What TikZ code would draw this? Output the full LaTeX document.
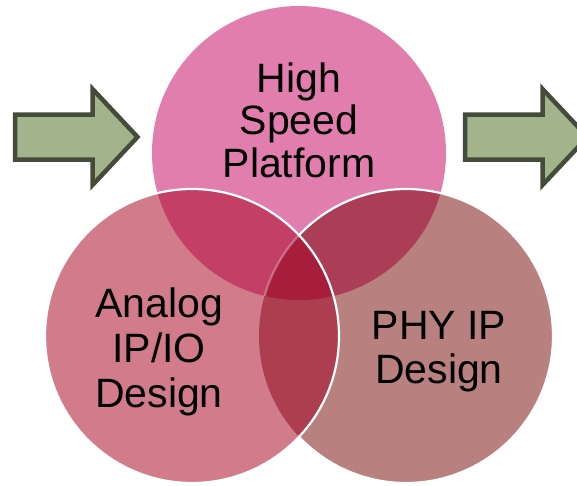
\documentclass[tikz,border=0pt]{standalone}
\usepackage{fontspec}
\setmainfont{Liberation Sans}
\definecolor{cT}{HTML}{E27EAE}
\definecolor{cL}{HTML}{D27C8B}
\definecolor{cR}{HTML}{B8807E}
\definecolor{cTL}{HTML}{C33F66}
\definecolor{cTR}{HTML}{AB3D56}
\definecolor{cLR}{HTML}{AD3E4F}
\definecolor{cTLR}{HTML}{A61E3C}
\definecolor{arrfill}{HTML}{A3B48D}
\definecolor{arrline}{HTML}{454B3A}
\tikzset{
  bigarrow/.style={fill=arrfill,draw=arrline,line width=4.5pt,line join=miter},
  ring/.style={draw=white,line width=2.2pt},
  lbl/.style={align=center,inner sep=0pt,text=black}
}
\begin{document}
\begin{tikzpicture}[x=1pt,y=-1pt]
\useasboundingbox (0,0) rectangle (577,485);
\coordinate (T) at (299,153);
\coordinate (L) at (192,336);
\coordinate (R) at (406,336);
\def\rad{147}
% arrows
\draw[bigarrow] (15,114.5) -- (92.5,114.5) -- (92.5,89) -- (137.5,137) -- (92.5,185) -- (92.5,159.5) -- (15,159.5) -- cycle;
\draw[bigarrow] (465,114.5) -- (542.5,114.5) -- (542.5,89) -- (587.5,137) -- (542.5,185) -- (542.5,159.5) -- (465,159.5) -- cycle;
% top circle
\fill[cT] (T) circle (\rad);
% right circle
\fill[cR] (R) circle (\rad);
\begin{scope}
  \clip (T) circle (\rad);
  \fill[cTR] (R) circle (\rad);
\end{scope}
\draw[ring] (R) circle (\rad);
% left circle
\fill[cL] (L) circle (\rad);
\begin{scope}
  \clip (T) circle (\rad);
  \fill[cTL] (L) circle (\rad);
\end{scope}
\begin{scope}
  \clip (R) circle (\rad);
  \fill[cLR] (L) circle (\rad);
\end{scope}
\begin{scope}
  \clip (T) circle (\rad);
  \clip (R) circle (\rad);
  \fill[cTLR] (L) circle (\rad);
\end{scope}
\begin{scope}
  \clip (T) circle (\rad);
  \clip (L) circle (\rad);
  \draw[ring,draw opacity=0.3] (R) circle (\rad);
\end{scope}
\draw[ring] (L) circle (\rad);
% labels
\node[lbl,anchor=base,font=\fontsize{41}{42.5}\selectfont] (hsp) at (299,177) {High\\Speed\\Platform};
\node[lbl,anchor=base,font=\fontsize{41}{45}\selectfont] (aio) at (159,407) {Analog\\IP/IO\\Design};
\node[lbl,anchor=base,font=\fontsize{41}{44}\selectfont] (phy) at (439,383) {PHY IP\\Design};
\end{tikzpicture}
\end{document}
